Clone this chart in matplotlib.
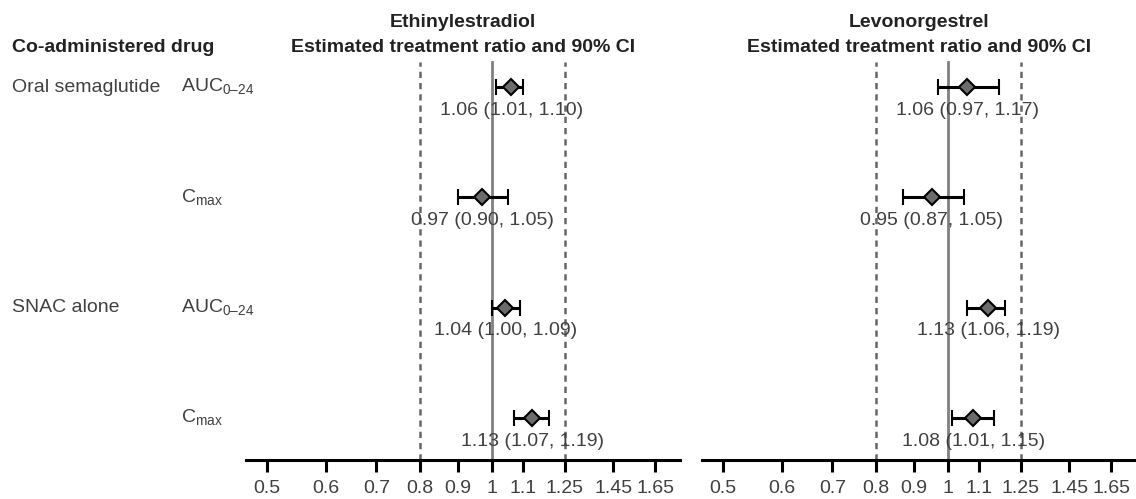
import matplotlib
matplotlib.use("Agg")
from matplotlib import pyplot as plt
from matplotlib.transforms import blended_transform_factory

plt.rcParams['font.family'] = ['Liberation Sans', 'DejaVu Sans']
plt.rcParams['mathtext.fontset'] = 'custom'
plt.rcParams['mathtext.rm'] = 'Liberation Sans'

# data
drugs = ["Oral semaglutide", "SNAC alone"]
params = ["AUC$_{\\mathregular{0\u201324}}$", "C$_{\\mathregular{max}}$"] * 2
panels = ["Ethinylestradiol", "Levonorgestrel"]
ee_est = [1.06, 0.97, 1.04, 1.13]
ee_lo = [1.01, 0.90, 1.00, 1.07]
ee_hi = [1.10, 1.05, 1.09, 1.19]
lng_est = [1.06, 0.95, 1.13, 1.08]
lng_lo = [0.97, 0.87, 1.06, 1.01]
lng_hi = [1.17, 1.05, 1.19, 1.15]
ticks = [0.5, 0.6, 0.7, 0.8, 0.9, 1, 1.1, 1.25, 1.45, 1.65]
tick_labels = ["0.5", "0.6", "0.7", "0.8", "0.9", "1", "1.1", "1.25", "1.45", "1.65"]

txt = '#404040'
fs = 14


def draw_panel(ax, title, est, lo, hi):
    ax.set_xscale('log')
    ax.set_xlim(0.469, 1.78)
    ax.set_ylim(3.38, -0.2)
    for s in ['top', 'left', 'right']:
        ax.spines[s].set_visible(False)
    ax.spines['bottom'].set_linewidth(2.2)
    ax.set_yticks([])
    ax.set_xticks(ticks)
    ax.set_xticklabels(tick_labels)
    ax.minorticks_off()
    ax.tick_params(axis='x', direction='out', length=8.6, width=2.2,
                   labelsize=fs, labelcolor=txt, pad=6)

    ax.axvline(1, ymax=1.008, color='#808080', lw=2, zorder=1, clip_on=False)
    for v in [0.8, 1.25]:
        ax.axvline(v, ymax=1.008, color='#666666', lw=1.8, ls=(0, (2.5, 2)),
                   zorder=1, clip_on=False)

    rows = list(range(len(est)))
    for i in rows:
        ax.errorbar(est[i], i, xerr=[[est[i] - lo[i]], [hi[i] - est[i]]],
                    fmt='D', color='black', mfc='#6b6b6b', mec='black',
                    mew=1.5, ms=8.5, capsize=5.5, elinewidth=2.2, capthick=2.2,
                    zorder=3)
        ax.text(est[i], i + 0.21, f"{est[i]:.2f} ({lo[i]:.2f}, {hi[i]:.2f})",
                ha='center', va='center', fontsize=fs, color=txt)

    ax.text(0.5, 1.0 + 43 / 395, title, transform=ax.transAxes, ha='center',
            va='center', fontsize=fs, fontweight='bold', color='#222222')
    ax.text(0.5, 1.0 + 18 / 395,
            "Estimated treatment ratio and 90% CI", transform=ax.transAxes,
            ha='center', va='center', fontsize=fs, fontweight='bold',
            color='#222222')


fig = plt.figure(figsize=(11.36, 4.99), dpi=100)
ax1 = fig.add_axes([246 / 1136, 39 / 499, 434 / 1136, 395 / 499])
ax2 = fig.add_axes([702 / 1136, 39 / 499, 434 / 1136, 395 / 499])

draw_panel(ax1, panels[0], ee_est, ee_lo, ee_hi)
draw_panel(ax2, panels[1], lng_est, lng_lo, lng_hi)

fig.text(12 / 1136, 1 - 47 / 499, "Co-administered drug", ha='left',
         va='center', fontsize=fs, fontweight='bold', color='#222222')

tr = blended_transform_factory(fig.transFigure, ax1.transData)
for k, d in enumerate(drugs):
    fig.text(12 / 1136, 2 * k, d, transform=tr, ha='left', va='center',
             fontsize=fs, color=txt)
for i, p in enumerate(params):
    fig.text(181 / 1136, i, p, transform=tr, ha='left', va='center',
             fontsize=fs, color=txt)

fig.savefig("out.png", dpi=100)
